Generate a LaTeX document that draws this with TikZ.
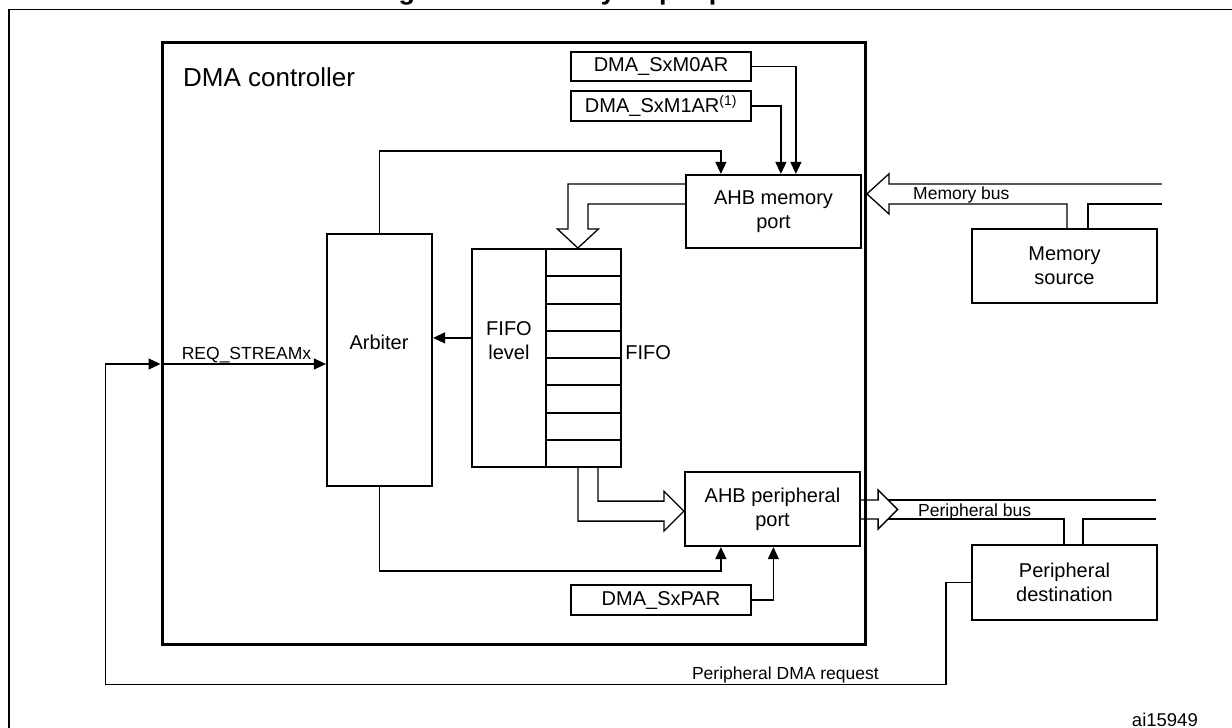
\documentclass[tikz,border=0pt]{standalone}
\usepackage{fontspec}
\setmainfont{Liberation Sans}
\usetikzlibrary{arrows.meta,calc}
\begin{document}
\begin{tikzpicture}[x=1pt,y=-1pt,
  box/.style={draw, line width=2.2pt, rectangle, inner sep=0pt, align=center, font=\fontsize{20}{24}\selectfont},
  conn/.style={line width=1.3pt, -{Triangle[length=12pt,width=11pt]}},
  wire/.style={line width=1.3pt},
  hollow/.style={line width=1.3pt, line join=miter},
  small/.style={font=\fontsize{17.5}{20}\selectfont, inner sep=0pt},
  txt/.style={font=\fontsize{20}{24}\selectfont, inner sep=0pt, align=center}]
\useasboundingbox (0,0) rectangle (1232,728);
\clip (0,0) rectangle (1232,728);
\fill[white] (0,0) rectangle (1232,728);

% title (mostly cut off at the top edge, as in the reference)
\node[font=\bfseries\fontsize{27}{30}\selectfont, anchor=base, inner sep=0pt] (title) at (622,-0.5) {Figure 34. Memory-to-peripheral mode};

% outer frame (cut at right and bottom)
\draw[line width=1.6pt] (8.7,740) -- (8.7,9.3) -- (1240,9.3);

% DMA controller
\node[draw, line width=3pt, minimum width=703pt, minimum height=602pt, inner sep=0pt] (dma) at (513.5,343) {};
\node[font=\fontsize{26}{30}\selectfont, anchor=base west, inner sep=0pt] (dmalbl) at (183,86) {DMA controller};

% registers
\node[box, minimum width=180pt, minimum height=29pt] (m0) at (661,66.5) {DMA\_SxM0AR};
\node[box, minimum width=180pt, minimum height=30pt] (m1) at (661,106) {DMA\_SxM1AR\textsuperscript{(1)}};
\node[box, minimum width=180pt, minimum height=30pt] (par) at (661,600) {DMA\_SxPAR};

% ports
\node[box, minimum width=175pt, minimum height=73pt] (mem) at (773.5,211.5) {AHB memory\\port};
\node[box, minimum width=175pt, minimum height=74pt] (pport) at (772.5,509) {AHB peripheral\\port};

% arbiter
\node[box, minimum width=105pt, minimum height=252pt] (arb) at (379.5,360) {};
\node[txt] (arbtxt) at (379,342) {Arbiter};

% FIFO
\node[box, minimum width=74pt, minimum height=218pt] (flevel) at (509,358) {};
\node[box, minimum width=75pt, minimum height=218pt] (cells) at (583.5,358) {};
\node[txt] (fltxt) at (509,340.5) {FIFO\\level};
\foreach \k in {1,...,7}
  \draw[line width=2pt] ($(cells.north west)+(1.1,1.1+27.25*\k)$) -- ($(cells.north east)+(-1.1,1.1+27.25*\k)$);
\node[txt, anchor=west] (fifotxt) at ($(cells.east)+(3,-5)$) {FIFO};

% external blocks
\node[box, minimum width=185pt, minimum height=74pt] (src) at (1064.5,266) {Memory\\source};
\node[box, minimum width=185pt, minimum height=75pt] (dest) at (1064.5,582.5) {Peripheral\\destination};

% register connections
\draw[conn] (m0.east) -| ($(mem.north west)+(111,0)$);
\draw[conn] (m1.east) -| ($(mem.north west)+(96,0)$);
\draw[conn] (par.east) -| ($(pport.south west)+(89.5,0)$);

% arbiter connections
\draw[conn] (arb.north) -- ++(0,-82) -| ($(mem.north west)+(36,0)$);
\draw[conn] (arb.south) -- ++(0,84) -| ($(pport.south west)+(37,0)$);
\draw[conn] ($(flevel.north west)+(0,90)$) coordinate (flo) -- (flo -| arb.east);

% request path
\coordinate (arbin) at ($(arb.west)+(0,4)$);
\coordinate (dmain) at (dma.west |- arbin);
\draw[conn] (dest.west) -- ++(-25,0) |- ($(dma.south west)+(-55,39)$) |- (dmain);
\draw[conn] (dmain) -- (arbin) node[small, pos=0.52, anchor=base, yshift=5pt] {REQ\_STREAMx};
\node[small, anchor=base east] (reqlbl) at (879,679.5) {Peripheral DMA request};

% hollow arrow: memory port -> FIFO
\draw[hollow] ($(mem.west)+(0,-27.5)$) -- ++(-117,0) -- ++(0,45) -- ++(-10.5,0) -- ++(20.5,19) -- ++(20.5,-19) -- ++(-10.5,0) -- ++(0,-25) -- ++(97,0);

% hollow arrow: FIFO -> peripheral port
\draw[hollow] ($(cells.south west)+(33,0)$) -- ++(0,53) -- ++(86,0) -- ++(0,10) -- ++(20,-20) -- ++(-20,-20) -- ++(0,10) -- ++(-66,0) -- ++(0,-33);

% memory bus
\draw[hollow] ($(src.north west)+(96,0)$) -- ++(0,-24) -- ++(-178,0) -- ++(0,10) -- ++(-22,-20) -- ++(22,-20) -- ++(0,10) -- ++(273,0);
\draw[wire] ($(src.north west)+(117,0)$) -- ++(0,-24) -- ++(74,0);
\node[small, anchor=base west] (membus) at (913,199.5) {Memory bus};

% peripheral bus
\draw[hollow] ($(pport.east)+(0,-9)$) -- ++(17,0) -- ++(0,-10) -- ++(19.5,19.5) -- ++(-19.5,19.5) -- ++(0,-10) -- ++(-17,0);
\draw[wire] ($(pport.east)+(27,-9)$) -- ++(268,0);
\draw[wire] ($(dest.north west)+(93,0)$) |- ($(pport.east)+(27,10)$);
\draw[wire] ($(dest.north west)+(112,0)$) |- ($(pport.east)+(295,10)$);
\node[small, anchor=base west] (perbus) at (918,516.5) {Peripheral bus};

% figure id
\node[font=\fontsize{18.5}{22}\selectfont, anchor=base east, inner sep=0pt] (aiid) at (1198,726.5) {ai15949};
\end{tikzpicture}
\end{document}
